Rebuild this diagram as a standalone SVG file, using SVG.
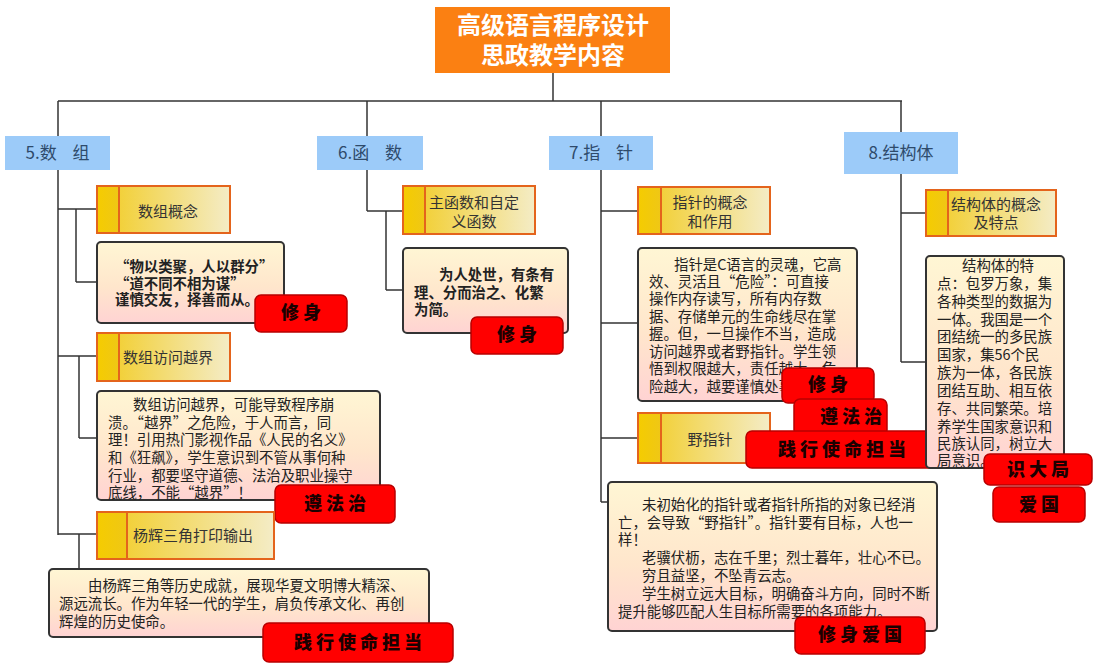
<svg xmlns="http://www.w3.org/2000/svg" width="1099" height="665" viewBox="0 0 1099 665">
<defs>
<linearGradient id="descGrad" x1="0" y1="0" x2="0" y2="1">
<stop offset="0" stop-color="#FFF6D4"/>
<stop offset="0.55" stop-color="#FFE6CC"/>
<stop offset="1" stop-color="#FFD3D3"/>
</linearGradient>
<linearGradient id="labGrad" x1="0" y1="0" x2="1" y2="0">
<stop offset="0" stop-color="#F2CB1E"/>
<stop offset="1" stop-color="#F4ECC6"/>
</linearGradient>
<linearGradient id="bandGrad" x1="0" y1="0" x2="1" y2="0">
<stop offset="0" stop-color="#F5CC00"/>
<stop offset="1" stop-color="#EFC716"/>
</linearGradient>
</defs>
<style>
text{font-family:"Noto Sans CJK SC","Noto Sans",sans-serif;}
.title{fill:#FFFFFF;font-size:24px;font-weight:bold;text-anchor:middle;}
.cat rect{fill:#9CCBF9;}
.cat text{fill:#2E4A6B;font-size:17px;text-anchor:middle;}
.lab .main{fill:url(#labGrad);stroke:#E4641C;stroke-width:2;}
.lab .band{fill:url(#bandGrad);stroke:#E4641C;stroke-width:2;}
.lab text{fill:#333333;font-size:15px;}
.lab .c{text-anchor:middle;}
.desc rect{fill:url(#descGrad);stroke:#333333;stroke-width:2;}
.desc text{fill:#222222;font-size:14.4px;}
.desc .b{font-weight:bold;}
.badge rect{fill:#FF0000;stroke:#B80000;stroke-width:1.5;}
.badge text{fill:#1A0000;font-size:18px;font-weight:900;text-anchor:middle;letter-spacing:4px;}
.conn line{stroke:#333333;stroke-width:1.5;fill:none;}
</style>
<rect x="0" y="0" width="1099" height="665" fill="#FFFFFF"/>

<g id="connectors" class="conn">
<line x1="553" y1="73" x2="553" y2="101"/>
<line x1="58" y1="101" x2="902" y2="101"/>
<line x1="58" y1="101" x2="58" y2="136"/>
<line x1="367" y1="101" x2="367" y2="136"/>
<line x1="601" y1="101" x2="601" y2="136"/>
<line x1="901" y1="101" x2="901" y2="132"/>
<line x1="58" y1="170" x2="58" y2="535"/>
<line x1="58" y1="209" x2="97" y2="209"/>
<line x1="76" y1="209" x2="76" y2="282"/>
<line x1="76" y1="282" x2="97" y2="282"/>
<line x1="58" y1="356" x2="97" y2="356"/>
<line x1="79" y1="356" x2="79" y2="438"/>
<line x1="79" y1="438" x2="97" y2="438"/>
<line x1="58" y1="534" x2="97" y2="534"/>
<line x1="79" y1="534" x2="79" y2="569"/>
<line x1="367" y1="170" x2="367" y2="211"/>
<line x1="367" y1="211" x2="403" y2="211"/>
<line x1="386" y1="211" x2="386" y2="290"/>
<line x1="386" y1="290" x2="403" y2="290"/>
<line x1="601" y1="170" x2="601" y2="502"/>
<line x1="601" y1="211" x2="638" y2="211"/>
<line x1="601" y1="323" x2="638" y2="323"/>
<line x1="601" y1="438" x2="638" y2="438"/>
<line x1="601" y1="502" x2="608" y2="502"/>
<line x1="901" y1="174" x2="901" y2="362"/>
<line x1="901" y1="213" x2="926" y2="213"/>
<line x1="901" y1="362" x2="926" y2="362"/>
</g>

<g id="title">
<rect x="435" y="7" width="235" height="66" fill="#FB8012"/>
<text class="title" x="553" y="34">高级语言程序设计</text>
<text class="title" x="553" y="64">思政教学内容</text>
</g>

<g id="cat5" class="cat"><rect x="5" y="136" width="105" height="34"/><text x="57.5" y="159" word-spacing="12">5.数 组</text></g>
<g id="cat6" class="cat"><rect x="317" y="136" width="106" height="34"/><text x="370" y="159" word-spacing="12">6.函 数</text></g>
<g id="cat7" class="cat"><rect x="549" y="136" width="104" height="34"/><text x="601" y="159" word-spacing="12">7.指 针</text></g>
<g id="cat8" class="cat"><rect x="844" y="132" width="114" height="42"/><text x="901" y="159">8.结构体</text></g>

<g id="lab-shuzugainian" class="lab">
<rect class="main" x="97" y="186" width="133" height="47"/><rect class="band" x="97" y="186" width="22" height="47"/>
<text x="138" y="217">数组概念</text>
</g>
<g id="desc-wuyileiju" class="desc">
<rect x="97" y="242" width="187" height="81" rx="4"/>
<text class="b" x="115" y="272">“物以类聚，人以群分”</text>
<text class="b" x="115" y="289">“道不同不相为谋”</text>
<text class="b" x="115" y="305">谨慎交友，择善而从。</text>
</g>
<g id="badge-xiushen1" class="badge"><rect x="255" y="295" width="92" height="37" rx="6"/><text x="303" y="319">修身</text></g>

<g id="lab-yuejie" class="lab">
<rect class="main" x="97" y="333" width="133" height="48"/><rect class="band" x="97" y="333" width="22" height="48"/>
<text x="123" y="363">数组访问越界</text>
</g>
<g id="desc-yuejie" class="desc">
<rect x="97" y="391" width="283" height="109" rx="4"/>
<text x="133" y="410">数组访问越界，可能导致程序崩</text>
<text x="108" y="428">溃。“越界”之危险，于人而言，同</text>
<text x="108" y="445">理！引用热门影视作品《人民的名义》</text>
<text x="108" y="463">和《狂飙》，学生意识到不管从事何种</text>
<text x="108" y="481">行业，都要坚守道德、法治及职业操守</text>
<text x="108" y="498">底线，不能“越界”！</text>
</g>
<g id="badge-zunfazhi1" class="badge"><rect x="275" y="485" width="120" height="38" rx="6"/><text x="337" y="510">遵法治</text></g>

<g id="lab-yanghui" class="lab">
<rect class="main" x="97" y="512" width="177" height="47"/><rect class="band" x="97" y="512" width="30" height="47"/>
<text x="133" y="541">杨辉三角打印输出</text>
</g>
<g id="desc-yanghui" class="desc">
<rect x="49" y="569" width="380" height="68" rx="4"/>
<text x="88" y="591">由杨辉三角等历史成就，展现华夏文明博大精深、</text>
<text x="59" y="609">源远流长。作为年轻一代的学生，肩负传承文化、再创</text>
<text x="59" y="627">辉煌的历史使命。</text>
</g>
<g id="badge-shixing1" class="badge"><rect x="263" y="623" width="190" height="39" rx="6"/><text x="360" y="649">践行使命担当</text></g>

<g id="lab-hanshu" class="lab">
<rect class="main" x="403" y="186" width="132" height="48"/><rect class="band" x="403" y="186" width="22" height="48"/>
<text class="c" x="474" y="208">主函数和自定</text>
<text class="c" x="474" y="227">义函数</text>
</g>
<g id="desc-hanshu" class="desc">
<rect x="403" y="248" width="165" height="85" rx="4"/>
<text class="b" x="439" y="280">为人处世，有条有</text>
<text class="b" x="414" y="298">理、分而治之、化繁</text>
<text class="b" x="414" y="315">为简。</text>
</g>
<g id="badge-xiushen2" class="badge"><rect x="471" y="317" width="92" height="37" rx="6"/><text x="519" y="341">修身</text></g>

<g id="lab-zhizhen" class="lab">
<rect class="main" x="638" y="187" width="132" height="47"/><rect class="band" x="638" y="187" width="23" height="47"/>
<text class="c" x="710" y="208">指针的概念</text>
<text class="c" x="710" y="227">和作用</text>
</g>
<g id="desc-zhizhen" class="desc">
<rect x="638" y="248" width="219" height="153" rx="4"/>
<text x="674" y="270">指针是C语言的灵魂，它高</text>
<text x="649" y="287">效、灵活且“危险”：可直接</text>
<text x="649" y="304">操作内存读写，所有内存数</text>
<text x="649" y="322">据、存储单元的生命线尽在掌</text>
<text x="649" y="339">握。但，一旦操作不当，造成</text>
<text x="649" y="357">访问越界或者野指针。学生领</text>
<text x="649" y="374">悟到权限越大，责任越大，危</text>
<text x="649" y="392">险越大，越要谨慎处事。</text>
</g>
<g id="lab-yezhizhen" class="lab">
<rect class="main" x="638" y="413" width="132" height="50"/><rect class="band" x="638" y="413" width="23" height="50"/>
<text class="c" x="710" y="445">野指针</text>
</g>
<g id="badge-xiushen3" class="badge"><rect x="782" y="368" width="92" height="35" rx="6"/><text x="830" y="391">修身</text></g>
<g id="badge-zunfazhi2" class="badge"><rect x="794" y="399" width="93" height="37" rx="6"/><text x="853" y="423">遵法治</text></g>
<g id="badge-shixing2" class="badge"><rect x="746" y="431" width="191" height="37" rx="6"/><text x="844" y="456">践行使命担当</text></g>

<g id="desc-yezhizhen" class="desc">
<rect x="608" y="482" width="329" height="149" rx="4"/>
<text x="642" y="510">未初始化的指针或者指针所指的对象已经消</text>
<text x="618" y="528">亡，会导致“野指针”。指针要有目标，人也一</text>
<text x="618" y="545">样！</text>
<text x="642" y="563">老骥伏枥，志在千里；烈士暮年，壮心不已。</text>
<text x="642" y="581">穷且益坚，不坠青云志。</text>
<text x="642" y="599">学生树立远大目标，明确奋斗方向，同时不断</text>
<text x="618" y="617">提升能够匹配人生目标所需要的各项能力。</text>
</g>
<g id="badge-xiushenaiguo" class="badge"><rect x="795" y="617" width="130" height="37" rx="6"/><text x="862" y="641">修身爱国</text></g>

<g id="lab-jiegouti" class="lab">
<rect class="main" x="926" y="190" width="130" height="46"/><rect class="band" x="926" y="190" width="22" height="46"/>
<text class="c" x="996" y="210">结构体的概念</text>
<text class="c" x="996" y="228">及特点</text>
</g>
<g id="desc-jiegouti" class="desc">
<rect x="926" y="256" width="138" height="212" rx="4"/>
<text x="962" y="271">结构体的特</text>
<text x="937" y="289">点：包罗万象，集</text>
<text x="937" y="307">各种类型的数据为</text>
<text x="937" y="325">一体。我国是一个</text>
<text x="937" y="342">团结统一的多民族</text>
<text x="937" y="360">国家，集56个民</text>
<text x="937" y="378">族为一体，各民族</text>
<text x="937" y="396">团结互助、相互依</text>
<text x="937" y="414">存、共同繁荣。培</text>
<text x="937" y="432">养学生国家意识和</text>
<text x="937" y="449">民族认同，树立大</text>
<text x="937" y="466">局意识。</text>
</g>
<g id="badge-shidaju" class="badge"><rect x="984" y="454" width="108" height="31" rx="6"/><text x="1040" y="476">识大局</text></g>
<g id="badge-aiguo" class="badge"><rect x="993" y="487" width="92" height="35" rx="6"/><text x="1041" y="511">爱国</text></g>
</svg>
